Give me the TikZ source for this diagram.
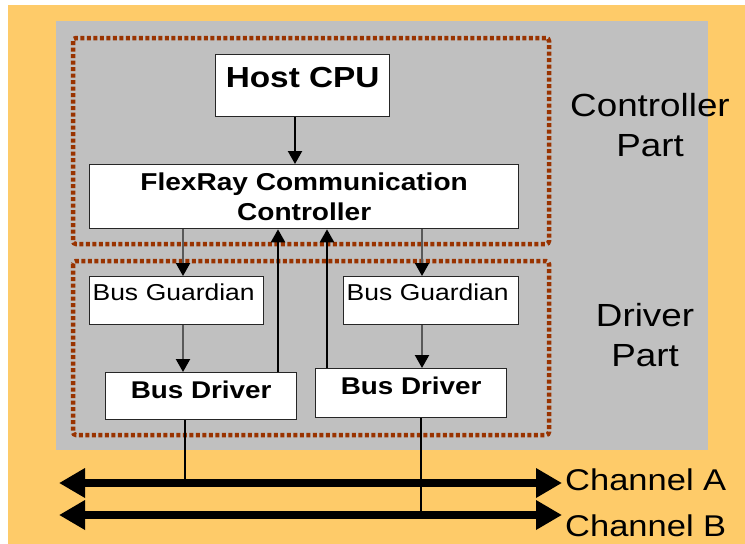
\documentclass[tikz,border=0pt]{standalone}
\usepackage{fontspec}
\setmainfont{Liberation Sans}[FakeStretch=1.15]
\usepackage{tikz}
\usetikzlibrary{arrows.meta,positioning}
\definecolor{frorange}{HTML}{FECB69}
\definecolor{frgray}{HTML}{C0C0C0}
\definecolor{frbrown}{HTML}{993300}
\tikzset{
  unit/.style={draw=black!85, fill=white, line width=1.3pt, inner sep=0pt, anchor=north west},
  hostbox/.style={unit, minimum width=174pt, text height=33pt, text depth=29pt,
    font=\bfseries\fontsize{29}{32}\selectfont},
  ccbox/.style={unit, minimum width=429pt, minimum height=64pt, align=center,
    font=\bfseries\fontsize{24.4}{30}\selectfont},
  guardbox/.style={unit, inner xsep=3pt, text width=168pt, align=left, text height=24pt,
    text depth=24pt, font=\fontsize{23}{28}\selectfont},
  drvbox/.style={unit, minimum width=191pt, text height=26pt,
    font=\bfseries\fontsize{24.2}{29}\selectfont},
  part/.style={draw=frbrown, line width=4.5pt, dash pattern=on 4pt off 2.5pt, rounded corners=3pt},
  flow/.style={-{Triangle[length=13pt, width=14pt]}, line width=2.2pt},
  flowdown/.style={flow, black!65, -{Triangle[length=13pt, width=14pt, black]}},
  bus/.style={{Triangle[length=26pt, width=28pt]}-{Triangle[length=26pt, width=28pt]}, line width=8pt},
  tap/.style={line width=1.3pt},
  side/.style={align=center, inner sep=0pt, font=\fontsize{32}{40}\selectfont},
  chlbl/.style={anchor=west, inner sep=3pt, font=\fontsize{30}{36}\selectfont},
}

\begin{document}
\begin{tikzpicture}[x=1pt, y=-1pt]
\useasboundingbox (0,0) rectangle (745,544);
\fill[white] (0,0) rectangle (745,544);
\fill[frorange] (8,5) rectangle (745,544);
\fill[frgray] (56,21) rectangle (708,450);

% controller part and driver part
\draw[part] (73,38) rectangle (549,244);
\draw[part] (73,261) rectangle (549,435);
\node[side] (ctrl) at (650,125) {Controller\\Part};
\node[side] (drvpart) at (645,335) {Driver\\Part};

% the boxes
\node[hostbox] (host) at (215,54) {Host CPU};
\node[ccbox] (fcc) at (89,164) {FlexRay Communication\\Controller};
\node[guardbox] (guardL) at (89,276) {Bus Guardian};
\node[guardbox, text width=169pt] (guardR) at (343,276) {Bus Guardian};
\node[drvbox, text depth=21pt] (drvL) at (105,372) {Bus Driver};
\node[drvbox, text depth=23pt] (drvR) at (315,368) {Bus Driver};

% columns of the vertical arrows
\coordinate (colH) at (295,0);
\coordinate (colA) at (183,0);
\coordinate (colB) at (278,0);
\coordinate (colC) at (327,0);
\coordinate (colD) at (422,0);

\draw[flow] (colH |- host.south) -- (colH |- fcc.north);
\draw[flowdown] (colA |- fcc.south) -- (colA |- guardL.north);
\draw[flowdown] (colD |- fcc.south) -- (colD |- guardR.north);
\draw[flowdown] (colA |- guardL.south) -- (colA |- drvL.north);
\draw[flowdown] (colD |- guardR.south) -- (colD |- drvR.north);
\draw[flow] (colB |- drvL.north) -- (colB |- fcc.south);
\draw[flow] (colC |- drvR.north) -- (colC |- fcc.south);

% the two channels
\coordinate (aW) at (59,483);
\coordinate (aE) at (562,483);
\coordinate (bW) at (59,515);
\coordinate (bE) at (562,515);
\coordinate (tapA) at (185,483);
\coordinate (tapB) at (421,515);
\draw[tap] (tapA |- drvL.south) -- (tapA);
\draw[tap] (tapB |- drvR.south) -- (tapB);
\draw[bus] (aW) -- (aE);
\draw[bus] (bW) -- (bE);
\node[chlbl] (chA) at (562,480) {Channel A};
\node[chlbl] (chB) at (562,526) {Channel B};
\end{tikzpicture}
\end{document}
